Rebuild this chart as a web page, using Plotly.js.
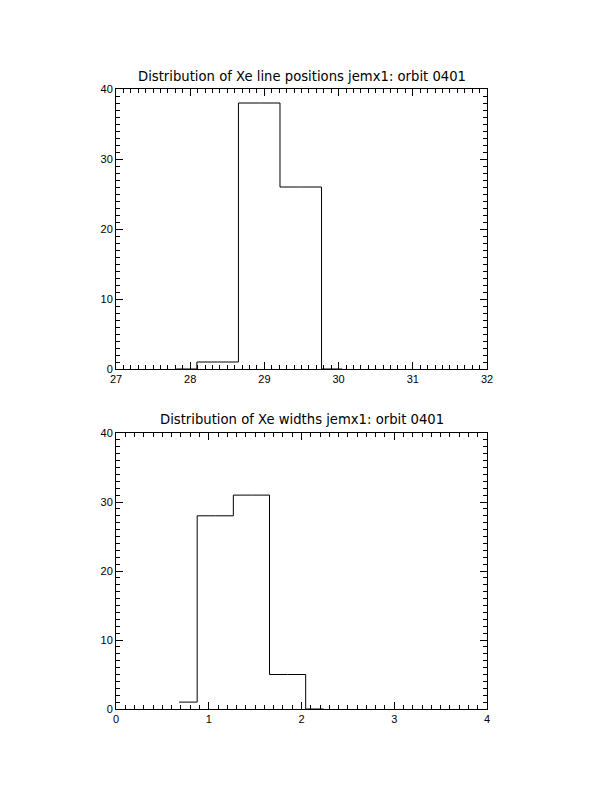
<!DOCTYPE html>
<html>
<head>
<meta charset="utf-8">
<script src="https://cdn.plot.ly/plotly-3.0.1.min.js"></script>
<style>html,body{margin:0;padding:0;background:#fff;}#chart{width:612px;height:792px;}</style>
</head>
<body>
<div id="chart"></div>
<script>
// Top panel: Xe line positions (bin centres, counts)
const posCentres = [27.81, 28.37, 28.93, 29.49, 30.05];
const posCounts  = [0, 1, 38, 26, 0];
// Bottom panel: Xe widths (bin centres, counts)
const widthCentres = [0.68, 1.07, 1.46, 1.85, 2.24];
const widthCounts  = [1, 28, 31, 5, 0];
const titles = ["Distribution of Xe line positions jemx1: orbit 0401",
                "Distribution of Xe widths jemx1: orbit 0401"];

const FONT = {family: "Liberation Sans, Arial, sans-serif", size: 11, color: "#000"};
const TFONT = {family: "DejaVu Sans, sans-serif", size: 13.2, color: "#000"};

function axis(range, dtick, minorDtick, domain, anchor) {
  return {
    range: range, domain: domain, anchor: anchor,
    showline: true, linecolor: "#000", linewidth: 1, mirror: "allticks",
    ticks: "inside", ticklen: 7, tickwidth: 1, tickcolor: "#000",
    dtick: dtick, tick0: 0,
    minor: {dtick: minorDtick, ticks: "inside", ticklen: 4, tickwidth: 1, tickcolor: "#000", showgrid: false},
    showgrid: false, zeroline: false, fixedrange: true,
    tickfont: FONT
  };
}

const traces = [
  {x: posCentres, y: posCounts, type: "scatter", mode: "lines",
   line: {shape: "hvh", color: "#000", width: 1}, xaxis: "x", yaxis: "y", hoverinfo: "none"},
  {x: widthCentres, y: widthCounts, type: "scatter", mode: "lines",
   line: {shape: "hvh", color: "#000", width: 1}, xaxis: "x2", yaxis: "y2", hoverinfo: "none"}
];

const xd = [116/612, 487/612];
const yTop = [1 - 369/792, 1 - 89/792];
const yBot = [1 - 709/792, 1 - 433/792];

const layout = {
  width: 612, height: 792,
  margin: {l: 0, r: 0, t: 0, b: 0},
  paper_bgcolor: "#fff", plot_bgcolor: "#fff",
  showlegend: false,
  font: FONT,
  xaxis: axis([27, 32], 1, 0.1, xd, "y"),
  yaxis: Object.assign(axis([0, 40], 10, 1, yTop, "x"), {ticklabelstandoff: 0}),
  xaxis2: axis([0, 4], 1, 0.1, xd, "y2"),
  yaxis2: Object.assign(axis([0, 40], 10, 1, yBot, "x2"), {ticklabelstandoff: 0}),
  annotations: [
    {text: titles[0], xref: "paper", yref: "paper", x: (xd[0]+xd[1])/2, y: 1 - 77/792,
     xanchor: "center", yanchor: "middle", showarrow: false, font: TFONT},
    {text: titles[1], xref: "paper", yref: "paper", x: (xd[0]+xd[1])/2, y: 1 - 419/792,
     xanchor: "center", yanchor: "middle", showarrow: false, font: TFONT}
  ]
};

Plotly.newPlot("chart", traces, layout, {staticPlot: true, displayModeBar: false});
</script>
</body>
</html>
